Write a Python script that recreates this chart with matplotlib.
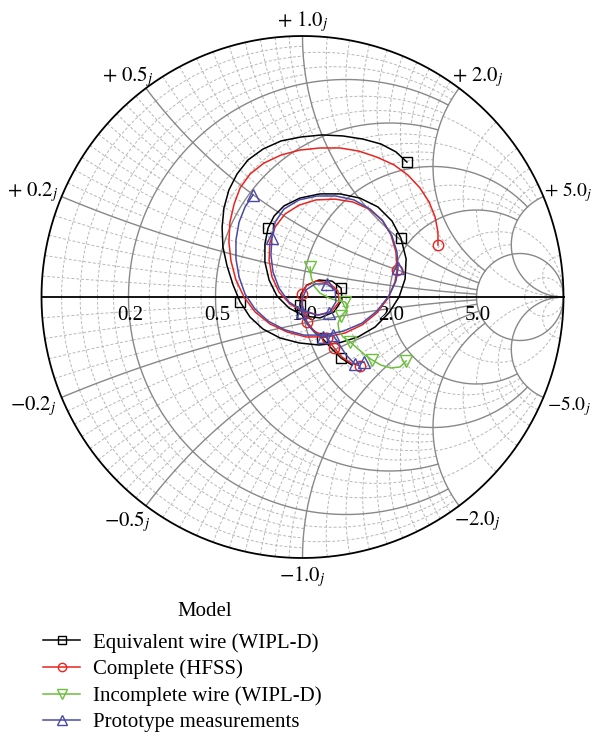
import numpy as np
import matplotlib
matplotlib.use("Agg")
import matplotlib.pyplot as plt
from matplotlib.lines import Line2D

plt.rcParams['font.family'] = ['Liberation Serif', 'DejaVu Serif']
plt.rcParams['mathtext.fontset'] = 'stix'

# ---------------- data (reflection coefficient: real / imag) ----------------
eq_re = [0.400, 0.358, 0.301, 0.232, 0.155, 0.075, -0.006, -0.082, -0.151, -0.209, -0.251, -0.282,
         -0.301, -0.308, -0.305, -0.289, -0.266, -0.239, -0.201, -0.151, -0.086, -0.013, 0.063,
         0.140, 0.213, 0.278, 0.331, 0.370, 0.393, 0.397, 0.377, 0.343, 0.289, 0.220, 0.144, 0.067,
         -0.010, -0.071, -0.109, -0.132, -0.144, -0.144, -0.128, -0.098, -0.052, 0.006, 0.067,
         0.121, 0.151, 0.148, 0.113, 0.063, 0.017, -0.006, -0.010, 0.002, 0.033, 0.075, 0.109,
         0.148, 0.190]
eq_im = [0.517, 0.556, 0.586, 0.605, 0.617, 0.621, 0.613, 0.598, 0.567, 0.525, 0.471, 0.410,
         0.341, 0.268, 0.192, 0.119, 0.046, -0.019, -0.077, -0.123, -0.157, -0.176, -0.184,
         -0.176, -0.153, -0.115, -0.061, 0.000, 0.069, 0.146, 0.226, 0.291, 0.345, 0.379, 0.395,
         0.395, 0.379, 0.349, 0.310, 0.264, 0.203, 0.134, 0.065, 0.004, -0.042, -0.073, -0.080,
         -0.057, -0.011, 0.034, 0.061, 0.065, 0.046, 0.011, -0.031, -0.077, -0.119, -0.157,
         -0.195, -0.234, -0.261]
eq_marks = [0, 17, 30, 39, 49, 54, 57, 59]

hf_re = [0.519, 0.519, 0.508, 0.485, 0.450, 0.404, 0.351, 0.285, 0.216, 0.144, 0.067, -0.010,
         -0.082, -0.148, -0.201, -0.239, -0.262, -0.278, -0.282, -0.274, -0.255, -0.224, -0.182,
         -0.125, -0.059, 0.013, 0.090, 0.163, 0.228, 0.285, 0.328, 0.354, 0.362, 0.358, 0.339,
         0.305, 0.255, 0.193, 0.125, 0.052, -0.013, -0.067, -0.105, -0.125, -0.128, -0.117,
         -0.090, -0.048, 0.006, 0.063, 0.113, 0.140, 0.136, 0.102, 0.052, 0.013, -0.002, -0.002,
         0.010, 0.017, 0.044, 0.094, 0.121, 0.151, 0.186, 0.220]
hf_im = [0.199, 0.249, 0.307, 0.364, 0.418, 0.467, 0.506, 0.536, 0.559, 0.571, 0.571, 0.563,
         0.544, 0.513, 0.471, 0.418, 0.356, 0.287, 0.211, 0.138, 0.065, 0.000, -0.057, -0.103,
         -0.134, -0.153, -0.153, -0.138, -0.107, -0.061, -0.004, 0.057, 0.103, 0.172, 0.238,
         0.295, 0.337, 0.364, 0.375, 0.372, 0.352, 0.318, 0.268, 0.207, 0.142, 0.077, 0.019,
         -0.027, -0.057, -0.069, -0.054, -0.019, 0.023, 0.054, 0.061, 0.042, 0.011, -0.031,
         -0.069, -0.096, -0.130, -0.157, -0.195, -0.230, -0.253, -0.264]
hf_marks = [0, 32, 56, 59, 61, 62, 65]

inc_re = [0.029, 0.033, 0.044, 0.067, 0.102, 0.136, 0.163, 0.174, 0.163, 0.148, 0.136, 0.140,
          0.155, 0.182, 0.213, 0.239, 0.266, 0.301, 0.339, 0.374, 0.397]
inc_im = [0.115, 0.077, 0.042, 0.015, -0.004, -0.015, -0.019, -0.038, -0.057, -0.073, -0.100,
          -0.130, -0.153, -0.172, -0.199, -0.222, -0.241, -0.261, -0.272, -0.268, -0.245]
inc_marks = [0, 6, 9, 13, 16, 20]

pro_re = [-0.190, -0.220, -0.243, -0.255, -0.255, -0.243, -0.220, -0.182, -0.132, -0.067, 0.006,
          0.082, 0.159, 0.228, 0.285, 0.331, 0.358, 0.366, 0.362, 0.343, 0.308, 0.259, 0.197,
          0.128, 0.056, -0.013, -0.071, -0.105, -0.117, -0.121, -0.113, -0.090, -0.052, -0.010,
          0.056, 0.102, 0.128, 0.125, 0.094, 0.048, 0.013, -0.002, -0.002, 0.017, 0.048, 0.079,
          0.117, 0.140, 0.167, 0.201, 0.236]
pro_im = [0.391, 0.345, 0.287, 0.218, 0.146, 0.077, 0.011, -0.046, -0.092, -0.126, -0.146,
          -0.146, -0.130, -0.100, -0.054, 0.004, 0.061, 0.111, 0.172, 0.234, 0.291, 0.337, 0.372,
          0.387, 0.387, 0.372, 0.337, 0.287, 0.226, 0.161, 0.096, 0.034, -0.019, -0.046, -0.069,
          -0.061, -0.019, 0.027, 0.050, 0.050, 0.027, -0.011, -0.057, -0.103, -0.138, -0.153,
          -0.146, -0.180, -0.222, -0.257, -0.249]
pro_marks = [0, 17, 28, 35, 38, 42, 45, 46, 49, 50]

series = [
    ("Equivalent wire (WIPL-D)", eq_re, eq_im, eq_marks, "black", "s", 6.5),
    ("Complete (HFSS)", hf_re, hf_im, hf_marks, "#e8241f", "o", 7.5),
    ("Incomplete wire (WIPL-D)", inc_re, inc_im, inc_marks, "#6cbf3c", "v", 9),
    ("Prototype measurements", pro_re, pro_im, pro_marks, "#4a4aa6", "^", 9),
]

r_ticks = [0.2, 0.5, 1.0, 2.0, 5.0]
x_ticks = [0.2, 0.5, 1.0, 2.0, 5.0]
r_labels = ["0.2", "0.5", "1.0", "2.0", "5.0"]

# ---------------- smith chart helpers ----------------
INF = np.inf
RPX = 261.0  # chart radius in pixels (for minor-grid density)


def gam(z):
    return (z - 1) / (z + 1)


def r_arc(r, x0, x1, n=300):
    t = np.linspace(np.arctan(x0), np.arctan(x1), n)
    x = np.tan(np.clip(t, -1.5707963, 1.5707963))
    g = gam(r + 1j * x)
    return g.real, g.imag


def x_arc(x, r0, r1, n=300):
    t = np.linspace(np.arctan(r0), np.arctan(r1), n)
    r = np.tan(np.clip(t, 0, 1.5707963))
    g = gam(r + 1j * x)
    return g.real, g.imag


fig = plt.figure(figsize=(5.92, 7.35), dpi=100)
ax = fig.add_axes([41.5 / 592, (735 - 558) / 735, 522 / 592, 522 / 735])
ax.set_xlim(-1, 1)
ax.set_ylim(-1, 1)
ax.set_aspect('equal')
ax.axis('off')

minor_kw = dict(color="#b8b8b8", lw=0.7, ls=(0, (3, 2)), zorder=1)
major_kw = dict(color="#888888", lw=1.0, zorder=2)

# fancy major grid extents
r_xlim = [2, 2, 5, 5, INF]
x_rlim = [5, 5, 5, 5, INF]

# minor grid cells (r_lo, r_hi, x_lo, x_hi)
cells = []
for xb in [(0, .2), (.2, .5), (.5, 1), (1, 2)]:
    for rb in [(0, .2), (.2, .5), (.5, 1), (1, 2), (2, 5)]:
        cells.append((rb[0], rb[1], xb[0], xb[1]))
for rb in [(0, 1), (1, 2), (2, 5)]:
    cells.append((rb[0], rb[1], 2, 5))
cells.append((5, INF, 0, 5))
cells.append((0, 5, 5, INF))
cells.append((5, INF, 5, INF))

dividers = [1, 2, 3, 5, 10, 20]
THR = 9.0
CAP = 20.0


def mid(a, b):
    return np.tan((np.arctan(a) + np.arctan(b)) / 2)


def pick(vals_fn, lo, hi):
    best = 1
    for d in dividers:
        v = np.linspace(lo, hi, d + 1)
        g = vals_fn(v)
        sp = np.abs(np.diff(g)) * RPX
        if np.min(sp) >= THR:
            best = d
    return best


for (r0, r1, x0, x1) in cells:
    rl, rh = r0, min(r1, CAP)
    xl, xh = x0, min(x1, CAP)
    xm = mid(x0, x1 if x1 < INF else 1e9)
    rm = mid(r0, r1 if r1 < INF else 1e9)
    nr = pick(lambda v: gam(v + 1j * xm), rl, rh)
    nx = pick(lambda v: gam(rm + 1j * v), xl, xh)
    for rv in np.linspace(rl, rh, nr + 1)[1:-1]:
        for s in (1, -1):
            a, b = r_arc(rv, s * x0, s * x1)
            ax.plot(a, b, **minor_kw)
    for xv in np.linspace(xl, xh, nx + 1)[1:-1]:
        for s in (1, -1):
            a, b = x_arc(s * xv, r0, r1)
            ax.plot(a, b, **minor_kw)

# major grid
for r, xl in zip(r_ticks, r_xlim):
    a, b = r_arc(r, -xl, xl)
    ax.plot(a, b, **major_kw)
for x, rl in zip(x_ticks, x_rlim):
    for s in (1, -1):
        a, b = x_arc(s * x, 0, rl)
        ax.plot(a, b, **major_kw)

# outer circle and real axis
th = np.linspace(0, 2 * np.pi, 600)
ax.plot(np.cos(th), np.sin(th), color="black", lw=1.3, zorder=3, clip_on=False)
ax.plot([-1, 1], [0, 0], color="black", lw=1.3, zorder=3, clip_on=False)

# real axis labels
for r, lab in zip(r_ticks, r_labels):
    g = (r - 1) / (r + 1)
    ax.annotate(lab, xy=(g, 0), xytext=(1.0, -13), textcoords='offset points',
                ha='center', va='center', fontsize=15, zorder=4)

# imaginary labels
for x in x_ticks:
    for s in (1, -1):
        g = gam(1j * s * x)
        ux, uy = g.real, g.imag
        fs = 15
        dx = ux * 22
        if x >= 5:
            fs = 14
            dx = ux * 19.5
        dy = uy * 12 - 1.5
        if s > 0:
            txt = r'$+\ %.1f_{j}$' % x
        else:
            txt = r'$-%.1f_{j}$' % x
        ax.annotate(txt, xy=(ux, uy), xytext=(dx, dy), textcoords='offset points',
                    ha='center', va='center', fontsize=fs, zorder=4,
                    annotation_clip=False)

# data
handles = []
for name, re, im, mk, col, m, ms in series:
    ax.plot(re, im, color=col, lw=1.1, marker=m, ms=ms, mfc='none', mec=col, mew=1.0,
            markevery=mk, zorder=5, clip_on=False)
    handles.append(Line2D([], [], color=col, lw=1.1, marker=m, ms=ms * 0.8, mfc='none',
                          mec=col, mew=1.0))

fig.text(205 / 592, 1 - 612 / 735, "Model", ha='center', va='center', fontsize=15)
fig.legend(handles, [s[0] for s in series], loc='upper left',
           bbox_to_anchor=(43 / 592, 1 - 633 / 735), bbox_transform=fig.transFigure,
           frameon=False, fontsize=15, handlelength=1.78, handletextpad=0.62,
           labelspacing=0.33, borderpad=0, borderaxespad=0, numpoints=1)

fig.savefig("out.png", dpi=100)
